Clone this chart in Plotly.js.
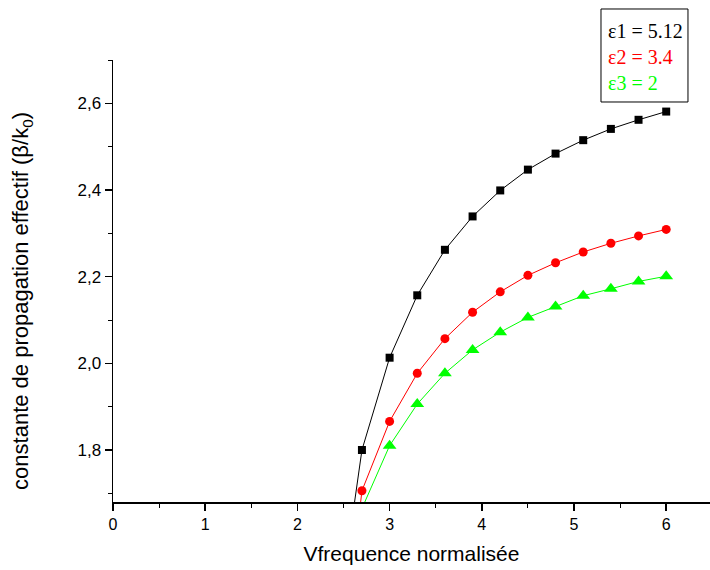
<!DOCTYPE html>
<html>
<head>
<meta charset="utf-8">
<script src="https://cdn.plot.ly/plotly-3.0.1.min.js"></script>
<style>html,body{margin:0;padding:0;background:#fff;}#chart{width:710px;height:570px;}</style>
</head>
<body>
<div id="chart"></div>
<script>
// Data
const vBlack = [2.4, 2.7, 3.0, 3.3, 3.6, 3.9, 4.2, 4.5, 4.8, 5.1, 5.4, 5.7, 6.0];
const betaBlack = [1.35, 1.800, 2.013, 2.157, 2.262, 2.339, 2.399, 2.447, 2.484, 2.515, 2.541, 2.562, 2.581];

const vRed = [2.4, 2.7, 3.0, 3.3, 3.6, 3.9, 4.2, 4.5, 4.8, 5.1, 5.4, 5.7, 6.0];
const betaRed = [1.15, 1.706, 1.866, 1.977, 2.057, 2.118, 2.165, 2.203, 2.232, 2.257, 2.277, 2.294, 2.309];

const vGreen = [2.7, 3.0, 3.3, 3.6, 3.9, 4.2, 4.5, 4.8, 5.1, 5.4, 5.7, 6.0];
const betaGreen = [1.665, 1.810, 1.906, 1.977, 2.031, 2.072, 2.106, 2.131, 2.156, 2.172, 2.189, 2.201];

const legendLabels = ["ε1 = 5.12", "ε2 = 3.4", "ε3 = 2"];
const xTitle = "Vfrequence normalisée";
const yTitle = "constante de propagation effectif (β/k<sub>0</sub>)";

const traces = [
  {x: vBlack, y: betaBlack, mode: 'lines+markers', name: legendLabels[0],
   line: {color: '#000000', width: 1}, marker: {symbol: 'square', size: 8, color: '#000000'}},
  {x: vRed, y: betaRed, mode: 'lines+markers', name: legendLabels[1],
   line: {color: '#ff0000', width: 1}, marker: {symbol: 'circle', size: 9, color: '#ff0000'}},
  {x: vGreen, y: betaGreen, mode: 'lines+markers', name: legendLabels[2],
   line: {color: '#00ff00', width: 1}, marker: {symbol: 'triangle-up', size: 12, color: '#00ff00'}}
];

const legendColors = ['#000000', '#ff0000', '#00ff00'];
const legendY = [1.0656, 1.0068, 0.948];
const annotations = legendLabels.map((t, i) => ({
  xref: 'paper', yref: 'paper', x: 0.8255, y: legendY[i], xanchor: 'left', yanchor: 'middle',
  text: t, showarrow: false, font: {family: '"Liberation Serif", "Times New Roman", serif', size: 20, color: legendColors[i]}
}));
annotations.push({
  xref: 'paper', yref: 'paper', x: -0.1524, y: 0.455, xanchor: 'center', yanchor: 'middle',
  textangle: -90, text: yTitle, showarrow: false,
  font: {family: 'Arial, "Liberation Sans", sans-serif', size: 22, color: '#000'}
});

const layout = {
  width: 710, height: 570,
  margin: {l: 113, r: 0, t: 60, b: 68},
  paper_bgcolor: '#ffffff', plot_bgcolor: '#ffffff',
  showlegend: false,
  separators: ', ',
  font: {family: 'Arial, "Liberation Sans", sans-serif', color: '#000000'},
  xaxis: {
    range: [0, 6.475], showgrid: false, zeroline: false,
    showline: true, linecolor: '#000', linewidth: 1.5,
    ticks: 'outside', ticklen: 7, tickwidth: 1.5, tickcolor: '#000',
    dtick: 1, tick0: 0, tickfont: {size: 16},
    minor: {dtick: 0.5, ticks: 'outside', ticklen: 4, tickwidth: 1, tickcolor: '#000'},
    title: {text: xTitle, font: {size: 21}, standoff: 14}
  },
  yaxis: {
    range: [1.68, 2.70], showgrid: false, zeroline: false,
    showline: true, linecolor: '#000', linewidth: 1.5,
    ticks: 'outside', ticklen: 7, tickwidth: 1.5, tickcolor: '#000',
    dtick: 0.2, tick0: 1.8, tickformat: '.1f', tickfont: {size: 17},
    minor: {dtick: 0.1, ticks: 'outside', ticklen: 4, tickwidth: 1, tickcolor: '#000'}
  },
  shapes: [{type: 'rect', xref: 'paper', yref: 'paper', x0: 0.8174, x1: 0.9631, y0: 0.905, y1: 1.1154,
            line: {color: '#000', width: 1}, fillcolor: 'rgba(0,0,0,0)'}],
  annotations: annotations
};

Plotly.newPlot('chart', traces, layout, {displayModeBar: false, staticPlot: true});
</script>
</body>
</html>
